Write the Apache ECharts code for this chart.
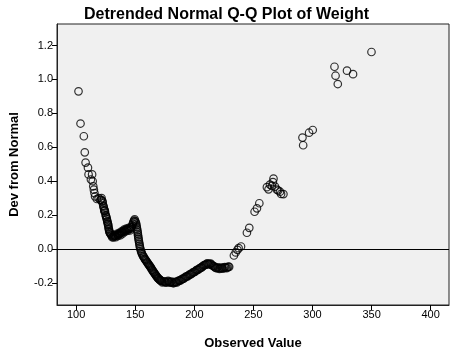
<!DOCTYPE html>
<html>
<head>
<meta charset="utf-8">
<script src="https://cdn.jsdelivr.net/npm/echarts@6/dist/echarts.min.js"></script>
<style>
html,body{margin:0;padding:0;background:#fff;}
#c{width:456px;height:358px;}
</style>
</head>
<body>
<div id="c"></div>
<script>
const titleText = 'Detrended Normal Q-Q Plot of Weight';
const xName = 'Observed Value';
const yName = 'Dev from Normal';
const xTicks = [100, 150, 200, 250, 300, 350, 400];
const yTicks = [-0.2, 0.0, 0.2, 0.4, 0.6, 0.8, 1.0, 1.2];

const weight = [
102,103.7,106.5,107.3,108,110,110.5,113.5,112.5,114,114.5,115,115.5,116,117.5,119,120.5,121.5,122,122.5,
123,123.5,124,124.5,125,125.5,126,126.5,127,127.3,127.8,128.3,129,130,131,132,133,134,135,136,
137,138,139,140,141,142,143,144,145,146,147,148,149,150,150.8,151.3,151.8,152.2,152.6,153,
153.5,154,154.8,155.5,156.5,157.5,158.5,159.5,160.5,161.5,162.5,163.5,164.5,165.5,166.5,167.5,168.5,169.5,170.5,171.5,
172.5,174,175.5,177,178.5,180,181.5,183,184.5,186,187.5,189,190.5,192,193.5,195,196.5,198,199.5,201,
202.5,204,205.5,207,208.5,210,211.5,213,214.5,216,217.5,219,220.5,222,223.5,225,226.5,228,229.5,
233.5,235,236.5,237.5,239.5,244.5,246.5,251,253,255,
261.4,262.8,264,265.6,266.5,267,268.3,269.8,271,272.5,273.4,275.4,
291.5,292.1,297.1,300.2,318.6,319.5,321.4,329.2,334.3,349.9,
121,122.3,123.2,123.8,124.3,125.2,125.8,126.3,126.8,127.2,127.6,128,128.6,
129.5,130.5,131.5,132.5,133.5,134.5,135.5,136.5,137.5,138.5,139.5,140.5,141.5,142.5,143.5,144.5,145.5,146.5,147.5,148.5,
149.5,150.3,151,151.5,152,152.4,152.8,153.3,153.8,154.4,155.2,156,157,158,159,160,161,162,163,164,
165,166,167,168,169,170,171,172,173,174.8,176.2,177.8,179.3,180.8,182.3,183.8,185.3,186.8,188.3,189.8,
191.3,192.8,194.3,195.8,197.3,198.8,200.3,201.8,203.3,204.8,206.3,207.8,209.3,210.8,212.3,213.8,215.3,216.8,218.3,219.8,
221.3,222.8,224.3,225.8,227.3,228.8
];
const deviation = [
0.93,0.74,0.665,0.57,0.51,0.48,0.44,0.44,0.41,0.40,0.37,0.35,0.33,0.31,0.295,0.30,0.29,0.30,0.285,0.27,
0.255,0.24,0.23,0.215,0.20,0.19,0.175,0.16,0.145,0.13,0.115,0.10,0.09,0.08,0.075,0.075,0.078,0.08,0.085,0.088,
0.09,0.095,0.10,0.105,0.11,0.112,0.115,0.117,0.118,0.12,0.13,0.15,0.168,0.165,0.15,0.13,0.11,0.09,0.07,0.05,
0.03,0.01,-0.01,-0.025,-0.04,-0.05,-0.062,-0.072,-0.082,-0.092,-0.102,-0.113,-0.124,-0.135,-0.145,-0.155,-0.165,-0.173,-0.18,-0.185,
-0.19,-0.193,-0.195,-0.193,-0.192,-0.195,-0.198,-0.198,-0.195,-0.19,-0.186,-0.18,-0.175,-0.168,-0.162,-0.156,-0.15,-0.143,-0.137,-0.13,
-0.123,-0.117,-0.11,-0.102,-0.095,-0.09,-0.087,-0.088,-0.092,-0.1,-0.108,-0.112,-0.113,-0.113,-0.112,-0.11,-0.11,-0.108,-0.105,
-0.038,-0.02,-0.005,0.005,0.015,0.096,0.125,0.22,0.24,0.27,
0.365,0.352,0.38,0.372,0.395,0.415,0.368,0.35,0.345,0.338,0.325,0.324,
0.657,0.612,0.686,0.702,1.075,1.022,0.973,1.052,1.031,1.162,
0.29,0.28,0.25,0.225,0.225,0.195,0.18,0.165,0.15,0.14,0.12,0.105,0.095,
0.085,0.07,0.068,0.082,0.07,0.09,0.078,0.095,0.082,0.104,0.092,0.115,0.102,0.12,0.108,0.125,0.11,0.128,0.14,0.16,
0.175,0.158,0.14,0.12,0.1,0.08,0.06,0.04,0.02,0.0,-0.018,-0.032,-0.045,-0.058,-0.066,-0.078,-0.088,-0.098,-0.107,-0.12,
-0.13,-0.14,-0.15,-0.16,-0.17,-0.176,-0.183,-0.188,-0.197,-0.19,-0.198,-0.188,-0.198,-0.192,-0.202,-0.194,-0.197,-0.186,-0.185,-0.176,
-0.174,-0.163,-0.161,-0.151,-0.148,-0.138,-0.135,-0.124,-0.122,-0.112,-0.108,-0.097,-0.093,-0.085,-0.09,-0.086,-0.097,-0.102,-0.112,-0.108,
-0.117,-0.11,-0.116,-0.107,-0.113,-0.104
];

const points = weight.map((w, i) => [w, deviation[i]]);

const chart = echarts.init(document.getElementById('c'), null, {renderer: 'canvas'});
const font = 'Arial, "Liberation Sans", sans-serif';
chart.setOption({
  animation: false,
  backgroundColor: '#ffffff',
  title: {
    text: titleText,
    left: 79,
    top: 2,
    textStyle: {fontFamily: font, fontSize: 16, fontWeight: 'bold', color: '#000'}
  },
  grid: {
    left: 53, top: 24, right: 7, bottom: 53,
    show: true, backgroundColor: '#f0f0f0', borderColor: '#222', borderWidth: 1
  },
  xAxis: {
    type: 'value',
    min: 83.8, max: 415.5,
    name: xName,
    nameLocation: 'middle',
    nameGap: 32,
    nameTextStyle: {fontFamily: font, fontSize: 13, fontWeight: 'bold', color: '#000'},
    axisLine: {show: true, onZero: false, lineStyle: {color: '#222', width: 1}},
    axisTick: {show: true, length: 5, customValues: xTicks, lineStyle: {color: '#000'}},
    axisLabel: {customValues: xTicks, margin: 4, fontFamily: font, fontSize: 11, color: '#000',
      formatter: v => String(Math.round(v))},
    splitLine: {show: false}
  },
  yAxis: {
    type: 'value',
    min: -0.33, max: 1.327,
    name: yName,
    nameLocation: 'middle',
    nameGap: 36,
    nameRotate: 90,
    nameTextStyle: {fontFamily: font, fontSize: 13, fontWeight: 'bold', color: '#000'},
    axisLine: {show: true, onZero: false, lineStyle: {color: '#222', width: 1}},
    axisTick: {show: true, length: 5, customValues: yTicks, lineStyle: {color: '#000'}},
    axisLabel: {customValues: yTicks, margin: 4, fontFamily: font, fontSize: 11, color: '#000',
      formatter: v => v.toFixed(1)},
    splitLine: {show: false}
  },
  series: [{
    type: 'scatter',
    data: points,
    symbol: 'circle',
    symbolSize: 7.5,
    itemStyle: {color: 'rgba(0,0,0,0)', borderColor: '#000', borderWidth: 1.2},
    markLine: {
      silent: true,
      symbol: 'none',
      label: {show: false},
      lineStyle: {color: '#000', width: 1, type: 'solid'},
      data: [{yAxis: 0}]
    }
  }]
});
</script>
</body>
</html>
